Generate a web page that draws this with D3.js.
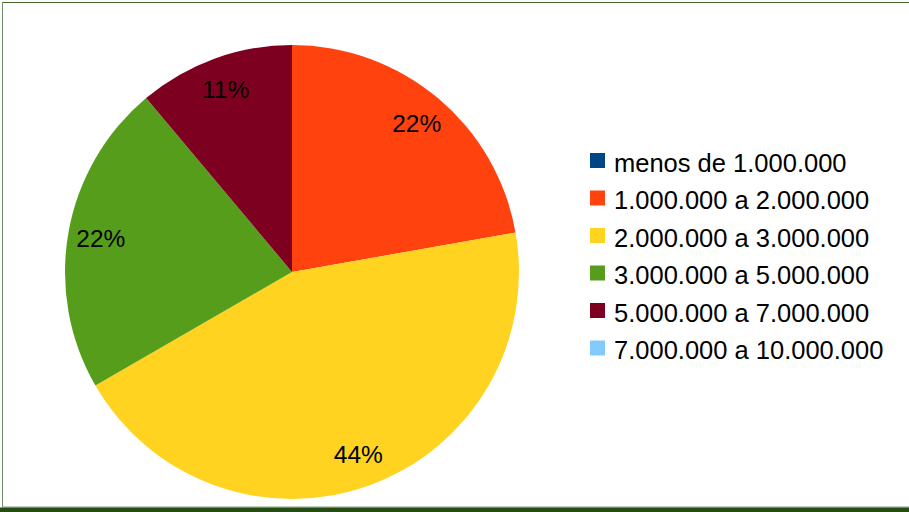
<!DOCTYPE html>
<html>
<head>
<meta charset="utf-8">
<script src="https://cdn.jsdelivr.net/npm/d3@7"></script>
<style>
  html, body { margin: 0; padding: 0; background: #fff; }
  svg { display: block; font-family: "Liberation Sans", Arial, sans-serif; }
</style>
</head>
<body>
<div id="chart"></div>
<script>
// Pie of households by income bracket, LibreOffice-style palette.
const categories = [
  'menos de 1.000.000',
  '1.000.000 a 2.000.000',
  '2.000.000 a 3.000.000',
  '3.000.000 a 5.000.000',
  '5.000.000 a 7.000.000',
  '7.000.000 a 10.000.000'
];
const counts = [0, 2, 4, 2, 1, 0];
const colors = ['#004586', '#ff420e', '#ffd320', '#579d1c', '#7e0021', '#83caff'];

const W = 909, H = 512;
const cx = 292, cy = 272, R = 227;

const svg = d3.select('#chart').append('svg')
  .attr('width', W).attr('height', H);

// frame
svg.append('rect').attr('x', 0).attr('y', 0).attr('width', W).attr('height', H).attr('fill', '#fff');
svg.append('line').attr('x1', 2).attr('x2', W).attr('y1', 2.5).attr('y2', 2.5)
  .attr('stroke', '#3f6a2a').attr('stroke-width', 1);
svg.append('line').attr('x1', 2.5).attr('x2', 2.5).attr('y1', 2).attr('y2', 507)
  .attr('stroke', '#6f8f62').attr('stroke-width', 1);
svg.append('line').attr('x1', 2).attr('x2', W).attr('y1', 507).attr('y2', 507)
  .attr('stroke', '#8a9a86').attr('stroke-width', 1);
svg.append('rect').attr('x', 0).attr('y', 507.5).attr('width', W).attr('height', 5)
  .attr('fill', '#234d12');

const rows = categories.map((c, i) => ({ cat: c, value: counts[i], color: colors[i] }));
const total = d3.sum(counts);

const pie = d3.pie().value((d) => d.value).sort(null);
const arc = d3.arc().innerRadius(0).outerRadius(R);
const labelArc = d3.arc().innerRadius(R * 0.855).outerRadius(R * 0.855);

const g = svg.append('g').attr('transform', `translate(${cx},${cy})`);
const arcs = pie(rows).filter((a) => a.data.value > 0);

g.selectAll('path').data(arcs).enter().append('path')
  .attr('d', arc)
  .attr('fill', (d) => d.data.color);

g.selectAll('.lbl').data(arcs).enter().append('text')
  .attr('class', 'lbl')
  .attr('transform', (d) => `translate(${labelArc.centroid(d)})`)
  .attr('text-anchor', 'middle')
  .attr('dy', '0.36em')
  .style('font-size', '24.5px')
  .attr('fill', '#000')
  .text((d) => Math.round(d.data.value / total * 100) + '%');

// legend
const legend = svg.append('g').attr('transform', 'translate(590,153)');
const item = legend.selectAll('g').data(rows).enter().append('g')
  .attr('transform', (d, i) => `translate(0,${i * 37.5})`);
item.append('rect').attr('width', 15).attr('height', 15)
  .attr('fill', (d) => d.color);
item.append('text')
  .attr('x', 24).attr('y', 18.5)
  .style('font-size', '25.5px')
  .attr('fill', '#000')
  .text((d) => d.cat);
</script>
</body>
</html>
